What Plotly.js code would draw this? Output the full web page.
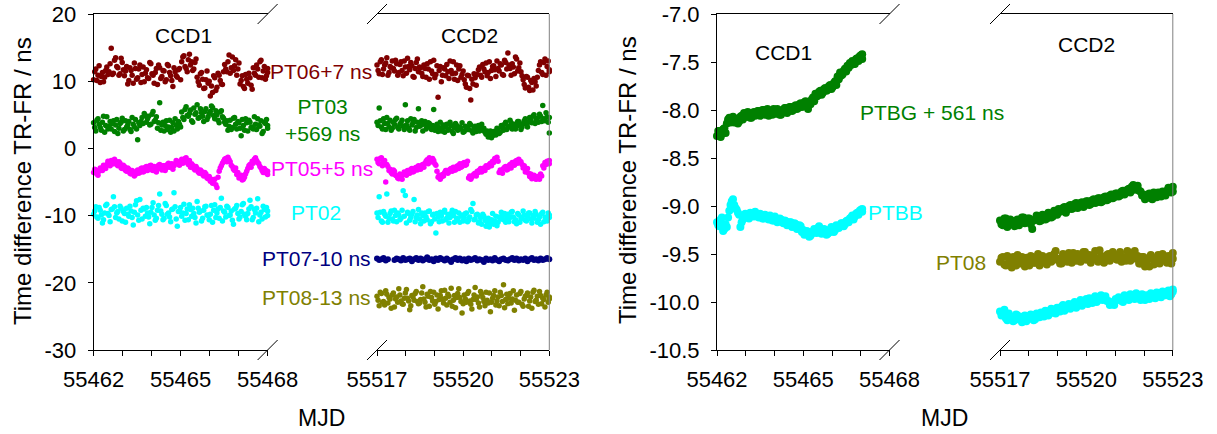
<!DOCTYPE html>
<html><head><meta charset="utf-8">
<script src="https://cdn.plot.ly/plotly-3.0.1.min.js"></script>
<style>html,body{margin:0;padding:0;background:#fff}#chart{width:1217px;height:434px}</style>
</head><body><div id="chart"></div>
<script>
// ---- time spans (MJD) ----
const ccd1Start = 55462, ccd1End = 55468, ccd1EndBG = 55467.05;
const ccd2Start = 55517, ccd2End = 55523;

// ---- left panel (ns); "a" and "b" are two interleaved passes of readings ----
const PT06_ccd1a = [10.2,11.8,10.9,9.8,11.3,10.6,12.1,11.4,14.9,11.2,13.5,12.0,11.1,12.8,10.8,12.2,10.1,11.6,9.7,11.9,10.5,12.4,11.0,9.9,11.7,10.4,12.6,10.9,11.3,9.5,12.0,10.7,11.5,10.2,12.3,10.8,9.2,11.4,10.6,11.9,12.9,13.8,11.9,13.2,12.4,11.6,12.8,10.6,9.4,11.3,8.9,10.2,9.7,7.8,8.3,10.5,9.1,10.9,9.6,11.4,11.8,12.9,11.2,13.6,12.3,10.9,12.7,10.1,9.2,11.0,9.7,10.5,8.8,11.2,12.4,10.6,13.1,11.5,10.3,11.9];
const PT06_ccd1b = [11.4,10.1,12.3,10.7,9.9,11.6,11.0,12.6,11.0,13.1,12.2,10.9,13.4,11.7,11.5,9.6,12.0,10.9,12.7,10.3,11.8,9.8,12.1,11.2,10.5,12.8,11.1,9.7,11.9,12.4,10.4,11.6,9.9,12.5,11.3,10.1,12.0,10.8,11.7,10.2,13.6,12.2,11.4,14.0,12.9,11.8,13.3,9.9,11.1,10.3,9.0,11.5,10.0,9.3,10.8,8.6,11.2,10.1,9.5,12.5,11.4,13.9,12.0,11.6,13.2,11.8,9.6,10.8,8.9,10.3,11.2,9.4,12.0,10.9,11.8,12.9,10.5,12.2,10.8,11.3];
const PT06_ccd2a = [12.4,11.1,13.2,11.8,12.7,10.9,12.2,13.0,11.5,12.6,11.3,12.9,10.8,12.1,13.4,11.7,12.3,10.6,12.8,11.4,12.0,10.7,11.9,12.6,10.3,11.5,13.1,11.0,7.6,12.2,10.9,11.8,12.5,10.4,11.6,12.9,11.2,10.1,12.3,11.0,10.2,9.1,10.8,7.2,9.6,10.5,11.0,12.1,10.6,11.8,12.7,11.3,10.4,12.2,11.7,13.0,11.5,12.4,10.9,12.8,14.2,11.9,12.6,11.1,13.3,12.0,11.4,10.2,9.0,10.6,8.6,9.8,10.4,9.3,11.6,12.9,11.0,13.3,12.2,11.4];
const PT06_ccd2b = [11.6,12.9,11.0,12.4,13.5,11.3,12.0,11.9,13.1,10.9,12.5,11.6,13.0,11.2,12.2,12.8,10.7,11.9,13.3,12.1,11.2,12.4,10.6,11.8,12.9,11.1,10.5,12.3,11.6,9.9,12.0,10.8,11.4,13.0,11.1,10.3,12.4,11.8,10.6,11.5,9.6,10.9,8.9,10.3,11.1,9.4,11.7,10.9,12.5,11.4,10.8,12.9,11.6,12.3,10.7,11.9,12.6,11.0,13.1,11.8,12.4,10.9,12.1,13.6,11.5,12.7,10.8,9.5,10.7,9.1,10.1,8.7,9.9,10.6,12.4,11.3,12.8,10.9,13.0,11.7];
const PT03_ccd1a = [3.8,2.6,4.4,3.1,3.9,2.4,4.7,3.3,2.9,4.1,3.5,2.2,3.7,4.5,2.8,3.2,4.0,2.5,3.6,4.3,1.3,3.4,4.6,5.2,3.9,4.8,3.6,5.5,4.2,3.0,6.8,3.5,2.6,4.1,3.2,2.4,3.8,4.4,2.9,3.6,5.4,4.3,6.2,4.8,5.7,3.9,5.1,6.5,4.6,5.3,4.0,5.9,4.7,5.5,6.1,4.4,5.0,3.8,5.6,4.5,3.6,2.7,4.2,3.1,4.6,2.9,3.8,1.9,3.4,4.4,2.6,3.9,3.2,4.7,2.8,3.5,4.1,2.5,3.7,3.0];
const PT03_ccd1b = [3.1,4.2,3.6,2.7,4.8,3.4,2.9,4.0,3.7,2.5,4.3,3.0,3.9,2.6,4.1,3.5,2.8,4.6,3.2,2.9,3.8,4.0,3.7,4.9,4.4,3.5,5.1,4.0,4.7,3.8,2.7,3.9,3.4,2.8,4.2,3.1,2.6,3.5,4.0,3.2,4.6,5.8,4.9,5.2,4.1,6.0,5.3,4.5,5.9,4.8,5.5,4.3,5.2,6.3,4.9,5.6,4.2,5.4,4.7,3.9,4.1,3.3,2.8,4.5,3.6,4.0,3.0,4.3,2.7,3.8,4.2,3.1,2.9,3.6,4.4,3.3,2.2,3.9,4.3,3.4];
const PT03_ccd2a = [3.9,6.0,3.2,4.4,2.8,3.7,4.2,3.0,3.6,4.5,2.9,3.8,3.3,6.5,4.1,2.7,3.5,4.3,3.1,5.9,3.4,2.6,4.0,3.2,3.7,2.8,5.8,3.3,2.5,3.9,3.0,2.4,3.6,2.9,3.4,2.2,3.7,2.7,3.2,3.8,2.5,3.1,2.8,3.5,2.3,3.3,2.9,2.6,3.6,3.0,2.1,1.7,2.6,1.9,2.4,3.0,2.2,3.4,2.7,3.9,3.1,4.2,2.9,3.6,3.3,4.0,2.8,3.7,4.4,3.2,4.6,3.8,5.0,4.3,3.9,4.8,6.4,4.1,4.7,2.3];
const PT03_ccd2b = [3.4,4.1,2.9,3.7,4.6,3.2,2.7,3.9,4.3,3.1,3.6,4.2,2.8,3.5,3.0,4.4,3.8,2.6,3.9,3.3,4.1,3.6,2.9,3.8,3.1,3.4,2.7,3.6,3.1,2.6,3.5,3.2,2.7,3.9,2.5,3.1,3.4,2.8,3.0,2.4,3.3,2.8,3.7,2.6,3.0,2.5,3.4,3.1,2.7,2.4,2.6,2.3,1.6,2.5,2.0,2.8,2.4,3.1,3.6,2.8,3.3,3.8,3.4,2.9,4.0,3.5,3.2,4.1,3.6,3.9,4.2,4.8,3.7,4.5,5.1,4.0,4.4,5.3,3.9,4.6];
const PT05_ccd1a = [-3.6,-3.2,-4.0,-2.9,-3.3,-2.6,-2.4,-2.1,-1.8,-2.3,-1.9,-2.6,-2.2,-3.0,-2.7,-3.4,-3.1,-3.8,-3.5,-3.9,-3.2,-3.6,-2.9,-3.4,-2.7,-3.1,-2.5,-3.3,-2.8,-3.0,-2.4,-3.2,-2.6,-2.9,-2.2,-2.7,-3.1,-2.3,-1.9,-2.5,-1.6,-2.1,-1.4,-2.4,-2.8,-2.5,-3.2,-3.0,-3.7,-3.4,-4.1,-3.8,-4.5,-4.9,-5.2,-4.6,-5.8,-3.4,-2.6,-1.9,-1.5,-1.3,-2.0,-2.7,-3.3,-3.9,-4.4,-4.0,-4.6,-3.8,-3.0,-2.4,-1.9,-1.6,-1.8,-2.3,-2.9,-3.6,-3.2,-3.9];
const PT05_ccd1b = [-3.1,-3.8,-3.4,-3.0,-2.5,-3.0,-1.9,-2.6,-2.3,-1.6,-2.4,-2.0,-2.9,-2.5,-3.3,-2.9,-3.7,-3.3,-4.1,-3.4,-3.7,-3.0,-3.5,-2.8,-3.3,-2.6,-3.2,-2.7,-3.5,-2.5,-3.0,-2.6,-3.3,-2.4,-2.8,-2.3,-2.6,-1.8,-2.4,-2.0,-2.2,-1.5,-2.0,-1.8,-2.3,-3.0,-2.7,-3.5,-3.2,-3.9,-3.6,-4.4,-4.2,-4.6,-4.8,-5.4,-4.3,-2.9,-2.2,-1.6,-2.0,-1.7,-2.5,-3.1,-2.9,-3.6,-4.1,-4.7,-4.3,-3.4,-2.6,-2.8,-2.2,-1.4,-2.1,-2.7,-3.3,-3.0,-3.7,-3.4];
const PT05_ccd2a = [-1.6,-2.3,-1.4,-2.0,-5.0,-2.7,-3.1,-3.8,-3.4,-4.1,-4.5,-4.2,-3.9,-3.6,-3.3,-3.7,-3.0,-3.4,-2.8,-2.6,-3.1,-2.4,-2.2,-1.7,-1.4,-2.0,-1.8,-2.5,-4.3,-4.6,-3.9,-3.6,-3.3,-3.5,-3.0,-2.8,-3.2,-2.6,-2.3,-2.7,-2.1,-2.4,-4.4,-4.6,-4.0,-3.7,-3.4,-3.2,-3.5,-2.9,-2.6,-2.8,-2.2,-1.9,-1.5,-1.3,-3.6,-3.3,-3.0,-2.7,-3.1,-2.4,-2.1,-2.5,-1.8,-1.6,-2.0,-2.9,-3.5,-3.0,-4.2,-4.5,-4.0,-4.6,-4.3,-3.8,-2.6,-2.1,-1.9,-2.3];
const PT05_ccd2b = [-2.1,-1.5,-2.6,-1.8,-2.4,-3.3,-3.6,-3.2,-4.0,-4.4,-3.8,-4.6,-3.5,-4.0,-3.7,-3.1,-3.5,-2.9,-3.2,-3.0,-2.5,-2.8,-1.9,-2.3,-2.0,-1.5,-2.3,-3.4,-4.0,-4.3,-4.1,-3.3,-3.7,-3.1,-3.4,-3.2,-2.7,-3.0,-2.8,-2.2,-2.5,-1.9,-4.1,-4.3,-3.8,-4.1,-3.6,-3.0,-3.1,-3.3,-2.8,-2.4,-2.6,-2.1,-1.7,-1.9,-3.2,-3.7,-2.8,-3.2,-2.6,-2.9,-2.3,-1.9,-2.2,-1.9,-2.4,-2.6,-3.2,-3.7,-3.8,-4.2,-4.5,-4.2,-4.6,-4.1,-2.9,-2.4,-2.2,-1.8];
const PT02_ccd1a = [-9.8,-8.7,-10.4,-9.2,-11.1,-9.6,-8.3,-10.0,-9.1,-7.2,-10.3,-9.4,-8.6,-10.8,-9.7,-8.9,-10.1,-9.3,-11.4,-8.4,-9.9,-7.6,-10.5,-9.0,-8.8,-10.2,-9.5,-8.1,-10.7,-9.2,-6.8,-9.8,-10.4,-8.5,-9.6,-10.9,-9.0,-8.7,-11.6,-9.4,-10.1,-8.3,-9.7,-10.6,-9.1,-8.9,-10.3,-7.9,-9.5,-10.8,-9.2,-8.6,-10.0,-9.8,-11.0,-8.4,-9.6,-10.4,-7.4,-9.3,-10.2,-8.8,-9.9,-10.7,-9.0,-8.5,-10.5,-9.4,-8.2,-10.1,-9.7,-7.7,-10.6,-9.1,-8.9,-10.9,-9.5,-8.6,-10.2,-9.3];
const PT02_ccd1b = [-9.3,-10.2,-8.8,-9.9,-10.6,-8.5,-9.7,-10.9,-9.0,-8.7,-9.6,-10.5,-8.9,-9.4,-11.0,-9.8,-8.6,-10.3,-9.5,-7.8,-10.7,-9.2,-8.9,-10.1,-9.6,-11.2,-8.8,-9.9,-10.4,-8.5,-9.3,-10.6,-8.2,-9.8,-10.2,-9.1,-6.6,-10.5,-9.4,-8.8,-9.6,-10.7,-9.0,-8.4,-10.1,-9.7,-11.1,-8.9,-9.3,-10.4,-8.7,-9.9,-10.6,-8.5,-9.2,-10.3,-9.0,-8.8,-10.8,-9.5,-8.6,-10.0,-9.3,-11.3,-8.9,-9.7,-10.2,-8.4,-9.8,-10.6,-9.0,-8.7,-10.3,-9.6,-7.5,-9.9,-10.5,-9.1,-8.8,-10.0];
const PT02_ccd2a = [-9.6,-7.2,-10.8,-9.4,-10.1,-11.0,-9.7,-10.5,-9.2,-10.9,-9.9,-10.4,-6.3,-7.0,-9.5,-10.7,-9.8,-7.6,-10.3,-9.1,-11.2,-10.0,-9.6,-10.6,-9.3,-10.9,-9.8,-12.6,-10.2,-9.5,-10.8,-9.2,-10.4,-11.1,-9.7,-10.0,-9.4,-10.6,-11.0,-9.9,-10.3,-9.6,-10.7,-9.1,-8.2,-10.5,-9.8,-10.9,-11.3,-10.1,-11.6,-10.4,-11.2,-9.7,-10.8,-11.5,-10.2,-9.5,-10.6,-11.0,-9.8,-10.3,-9.4,-10.9,-11.2,-9.9,-10.5,-9.3,-10.7,-10.1,-9.6,-11.1,-10.4,-9.8,-10.6,-11.3,-9.5,-10.2,-10.8,-9.9];
const PT02_ccd2b = [-10.3,-9.5,-11.0,-9.8,-6.8,-10.4,-9.3,-10.8,-10.0,-9.6,-10.6,-9.2,-10.1,-11.1,-9.7,-10.3,-9.4,-10.9,-9.9,-10.5,-9.6,-10.8,-10.2,-9.4,-11.2,-9.9,-10.5,-9.7,-10.9,-10.1,-9.5,-10.6,-9.8,-10.3,-9.2,-11.0,-10.4,-9.6,-10.1,-10.8,-9.7,-10.9,-10.2,-9.4,-10.6,-9.9,-11.1,-10.3,-9.8,-10.7,-11.0,-11.7,-10.6,-11.3,-10.1,-11.0,-10.5,-10.0,-9.7,-10.4,-10.9,-9.5,-10.2,-10.6,-9.7,-11.0,-10.3,-9.9,-10.8,-9.6,-10.5,-10.0,-9.4,-11.0,-10.2,-9.7,-10.9,-10.4,-9.6,-10.3];
const PT07_ccd2a = [-16.4,-16.6,-16.5,-16.3,-16.7,-16.5,null,null,-16.6,-16.4,-16.5,-16.7,-16.3,-16.6,-16.5,-16.4,-16.8,-16.5,-16.3,-16.6,-16.4,-16.7,-16.5,-16.2,-16.6,-16.5,-16.8,-16.4,-16.6,-16.3,-16.5,-16.7,-16.4,-16.6,-16.9,-16.5,-16.3,-16.6,-16.4,-16.7,-16.5,-16.8,-16.4,-16.6,-16.5,-16.3,-16.7,-16.5,-16.6,-16.9,-16.4,-16.6,-16.5,-16.7,-16.3,-16.6,-16.8,-16.5,-16.4,-16.6,-16.7,-16.5,-16.3,-16.6,-16.4,-16.7,-16.5,-16.6,-16.4,-16.8,-16.5,-16.3,-16.6,-16.5,-16.7,-16.4,-16.6,-16.5,-16.3,-16.5];
const PT08_ccd2a = [-22.0,-23.4,-21.6,-22.8,-21.2,-23.0,-22.4,-21.8,-23.6,-22.1,-20.9,-22.7,-23.2,-21.5,-22.3,-24.0,-21.9,-22.6,-21.3,-23.1,-22.5,-20.6,-22.9,-21.7,-23.5,-22.2,-21.4,-22.8,-23.9,-21.9,-22.4,-21.1,-23.3,-22.0,-20.8,-22.6,-23.7,-21.6,-22.2,-24.5,-21.8,-22.9,-21.3,-23.2,-22.5,-20.7,-22.1,-23.6,-21.7,-22.8,-21.4,-23.0,-24.3,-22.3,-21.2,-22.7,-23.4,-21.9,-20.3,-22.5,-23.1,-21.6,-22.4,-24.1,-21.8,-22.9,-21.3,-23.5,-22.0,-21.5,-22.7,-23.8,-21.1,-22.6,-23.2,-21.9,-22.3,-23.6,-21.4,-22.1];
const PT08_ccd2b = [-22.6,-21.4,-22.9,-23.3,-21.7,-22.2,-23.8,-21.5,-22.4,-22.9,-21.8,-23.1,-22.3,-21.0,-22.7,-23.4,-22.1,-21.6,-22.8,-23.0,-21.5,-22.4,-23.6,-22.0,-21.3,-22.7,-23.2,-21.8,-22.5,-21.2,-23.0,-22.3,-21.7,-22.9,-23.5,-21.9,-22.2,-20.9,-22.8,-23.1,-22.4,-21.6,-22.7,-23.9,-21.8,-22.5,-23.0,-21.3,-22.2,-23.4,-22.6,-21.5,-22.9,-21.9,-23.3,-22.1,-21.4,-22.8,-23.7,-21.7,-22.3,-23.0,-21.2,-22.6,-22.9,-21.6,-23.2,-22.4,-21.9,-23.5,-22.1,-21.4,-22.8,-22.0,-21.3,-23.1,-22.5,-21.8,-22.9,-22.4];

// ---- right panel (ns) ----
const PTBG_ccd1a = [-8.27,-8.22,-8.25,-8.19,-8.14,-8.08,-8.11,-8.13,-8.09,-8.12,-8.06,-8.03,-8.07,-8.04,-8.08,-8.02,-8.05,-8.01,-8.04,-8.00,-8.03,-8.06,-8.02,-7.99,-8.04,-8.01,-8.05,-8.02,-7.98,-8.01,-7.97,-8.00,-7.95,-7.98,-7.93,-7.96,-7.91,-7.99,-7.94,-7.87,-7.83,-7.85,-7.80,-7.82,-7.77,-7.79,-7.74,-7.76,-7.70,-7.65,-7.61,-7.63,-7.57,-7.54,-7.51,-7.49,-7.52,-7.46,-7.44,-7.47];
const PTBG_ccd1b = [-8.22,-8.28,-8.20,-8.24,-8.10,-8.13,-8.07,-8.10,-8.14,-8.07,-8.10,-8.07,-8.02,-8.08,-8.03,-8.06,-8.01,-8.06,-8.00,-8.05,-7.99,-8.02,-8.05,-8.03,-7.99,-8.05,-8.00,-7.98,-8.03,-7.97,-8.01,-7.96,-7.99,-7.94,-7.97,-7.92,-7.95,-7.93,-7.89,-7.91,-7.86,-7.81,-7.84,-7.78,-7.80,-7.75,-7.78,-7.72,-7.74,-7.68,-7.64,-7.59,-7.60,-7.56,-7.53,-7.52,-7.47,-7.49,-7.43,-7.42];
const PTBB_ccd1a = [-9.17,-9.21,-9.12,-9.24,-9.22,-9.05,-8.95,-8.99,-9.04,-9.09,-9.17,-9.12,-9.10,-9.13,-9.08,-9.11,-9.09,-9.12,-9.10,-9.13,-9.11,-9.14,-9.12,-9.15,-9.13,-9.16,-9.14,-9.18,-9.16,-9.19,-9.17,-9.21,-9.19,-9.23,-9.21,-9.25,-9.27,-9.29,-9.31,-9.28,-9.26,-9.23,-9.25,-9.28,-9.26,-9.29,-9.27,-9.24,-9.25,-9.22,-9.21,-9.18,-9.19,-9.15,-9.13,-9.10,-9.11,-9.07,-9.05,-9.06];
const PTBB_ccd1b = [-9.20,-9.14,-9.26,-9.19,-9.12,-8.99,-8.93,-9.02,-9.07,-9.22,-9.14,-9.08,-9.12,-9.07,-9.10,-9.06,-9.11,-9.08,-9.13,-9.09,-9.13,-9.10,-9.15,-9.11,-9.17,-9.13,-9.17,-9.15,-9.20,-9.17,-9.22,-9.18,-9.24,-9.20,-9.27,-9.30,-9.26,-9.32,-9.27,-9.24,-9.28,-9.21,-9.29,-9.24,-9.30,-9.25,-9.22,-9.27,-9.20,-9.23,-9.18,-9.21,-9.16,-9.17,-9.12,-9.14,-9.08,-9.09,-9.04,-9.03];
const PTBG_ccd2a = [-9.15,-9.20,-9.13,-9.18,-9.16,-9.21,-9.14,-9.17,-9.12,-9.16,-9.13,-9.24,-9.14,-9.11,-9.15,-9.10,-9.13,-9.08,-9.11,-9.06,-9.03,-9.05,-9.01,-9.04,-8.99,-9.02,-8.97,-9.00,-8.96,-8.99,-8.95,-8.98,-8.93,-8.96,-8.92,-8.95,-8.90,-8.93,-8.88,-8.91,-8.87,-8.89,-8.84,-8.86,-8.82,-8.80,-8.83,-8.79,-8.85,-8.88,-8.91,-8.87,-8.93,-8.89,-8.86,-8.90,-8.87,-8.84,-8.82,-8.85];
const PTBG_ccd2b = [-9.19,-9.13,-9.22,-9.14,-9.19,-9.15,-9.20,-9.12,-9.18,-9.13,-9.19,-9.15,-9.10,-9.16,-9.09,-9.14,-9.07,-9.12,-9.05,-9.09,-9.06,-9.02,-9.07,-9.00,-9.03,-8.98,-9.02,-8.97,-9.01,-8.95,-8.99,-8.94,-8.97,-8.92,-8.96,-8.91,-8.94,-8.89,-8.92,-8.87,-8.90,-8.85,-8.88,-8.83,-8.86,-8.78,-8.81,-8.84,-8.89,-8.93,-8.88,-8.92,-8.86,-8.91,-8.88,-8.85,-8.89,-8.81,-8.86,-8.80];
const PT08R_ccd2a = [-9.58,-9.53,-9.62,-9.55,-9.64,-9.56,-9.51,-9.60,-9.57,-9.54,-9.62,-9.53,-9.59,-9.50,-9.57,-9.54,-9.61,-9.52,-9.56,-9.47,-9.55,-9.60,-9.52,-9.58,-9.53,-9.49,-9.57,-9.52,-9.55,-9.48,-9.54,-9.59,-9.51,-9.55,-9.46,-9.53,-9.57,-9.50,-9.54,-9.51,-9.56,-9.48,-9.53,-9.57,-9.50,-9.55,-9.47,-9.52,-9.60,-9.53,-9.58,-9.63,-9.55,-9.60,-9.51,-9.57,-9.52,-9.59,-9.54,-9.49];
const PT08R_ccd2b = [-9.54,-9.61,-9.52,-9.59,-9.53,-9.62,-9.58,-9.53,-9.63,-9.56,-9.52,-9.59,-9.55,-9.62,-9.52,-9.59,-9.53,-9.58,-9.50,-9.56,-9.60,-9.50,-9.57,-9.49,-9.59,-9.55,-9.50,-9.58,-9.48,-9.56,-9.51,-9.56,-9.47,-9.58,-9.52,-9.59,-9.51,-9.57,-9.48,-9.55,-9.51,-9.58,-9.54,-9.47,-9.57,-9.50,-9.55,-9.60,-9.53,-9.63,-9.55,-9.51,-9.61,-9.54,-9.60,-9.50,-9.57,-9.52,-9.60,-9.55];
const PTBB_ccd2a = [-10.10,-10.13,-10.17,-10.12,-10.16,-10.19,-10.14,-10.18,-10.15,-10.20,-10.16,-10.14,-10.18,-10.13,-10.11,-10.15,-10.10,-10.12,-10.08,-10.12,-10.07,-10.05,-10.09,-10.04,-10.07,-10.02,-10.06,-10.01,-10.04,-9.99,-10.02,-9.98,-9.96,-10.00,-9.95,-9.98,-9.94,-9.99,-10.02,-10.03,-9.98,-9.96,-10.00,-9.95,-9.98,-9.94,-9.97,-9.93,-9.98,-9.95,-9.93,-9.97,-9.92,-9.96,-9.91,-9.95,-9.92,-9.90,-9.94,-9.89];
const PTBB_ccd2b = [-10.14,-10.08,-10.19,-10.15,-10.20,-10.13,-10.17,-10.21,-10.14,-10.18,-10.13,-10.19,-10.12,-10.16,-10.13,-10.09,-10.14,-10.07,-10.11,-10.06,-10.10,-10.03,-10.07,-10.02,-10.05,-10.00,-10.04,-9.98,-10.01,-9.97,-9.96,-10.01,-9.94,-9.98,-9.93,-9.96,-9.99,-10.03,-10.00,-9.97,-9.95,-9.99,-9.93,-9.97,-9.92,-9.96,-9.91,-9.96,-9.92,-9.98,-9.94,-9.91,-9.95,-9.90,-9.94,-9.89,-9.93,-9.88,-9.92,-9.87];

// ---- ticks ----
const yTicksL = [-30,-20,-10,0,10,20];
const yTextL  = ['-30','-20','-10','0','10','20'];
const yTicksR = [-10.5,-10.0,-9.5,-9.0,-8.5,-8.0,-7.5,-7.0];
const yTextR  = ['-10.5','-10.0','-9.5','-9.0','-8.5','-8.0','-7.5','-7.0'];
const xTicks1 = [55462,55465,55468];
const xTicks2 = [55517,55520,55523];

// sampling times of a track series spanning [a,b]; pass "b" is offset half a step
function sampleTimes(a, b, n, half){
  const st = (b-a)/(n-1), t=[];
  for(let i=0;i<n;i++) t.push(a + st*(i + (half?0.5:0)));
  if(half) t[n-1] = b;
  return t;
}

const W = 1217, H = 434;
const PX = v => v / W, PY = v => 1 - v / H;
const FONT = 'Liberation Sans, Arial, sans-serif';

const C = {red:'#800000', green:'#008000', mag:'#FF00FF', cyan:'#00FFFF', navy:'#000080', olive:'#808000'};

function tr(y, a, b, half, xa, ya, color, size){
  return {x: sampleTimes(a,b,y.length,half), y: y, xaxis: xa, yaxis: ya, type:'scatter', mode:'markers',
          marker:{color:color, size:size, line:{width:0}}, hoverinfo:'skip', cliponaxis:false};
}
const S1 = 5.5, S2 = 8;
const data = [
  tr(PT06_ccd1a, ccd1Start, ccd1End, false, 'x','y', C.red, S1),
  tr(PT06_ccd1b, ccd1Start, ccd1End, true,  'x','y', C.red, S1),
  tr(PT03_ccd1a, ccd1Start, ccd1End, false, 'x','y', C.green, S1),
  tr(PT03_ccd1b, ccd1Start, ccd1End, true,  'x','y', C.green, S1),
  tr(PT05_ccd1a, ccd1Start, ccd1End, false, 'x','y', C.mag, S1),
  tr(PT05_ccd1b, ccd1Start, ccd1End, true,  'x','y', C.mag, S1),
  tr(PT02_ccd1a, ccd1Start, ccd1End, false, 'x','y', C.cyan, S1),
  tr(PT02_ccd1b, ccd1Start, ccd1End, true,  'x','y', C.cyan, S1),
  tr(PT06_ccd2a, ccd2Start, ccd2End, false, 'x2','y', C.red, S1),
  tr(PT06_ccd2b, ccd2Start, ccd2End, true,  'x2','y', C.red, S1),
  tr(PT03_ccd2a, ccd2Start, ccd2End, false, 'x2','y', C.green, S1),
  tr(PT03_ccd2b, ccd2Start, ccd2End, true,  'x2','y', C.green, S1),
  tr(PT05_ccd2a, ccd2Start, ccd2End, false, 'x2','y', C.mag, S1),
  tr(PT05_ccd2b, ccd2Start, ccd2End, true,  'x2','y', C.mag, S1),
  tr(PT02_ccd2a, ccd2Start, ccd2End, false, 'x2','y', C.cyan, S1),
  tr(PT02_ccd2b, ccd2Start, ccd2End, true,  'x2','y', C.cyan, S1),
  tr(PT07_ccd2a, ccd2Start, ccd2End, false, 'x2','y', C.navy, 6),
  tr(PT08_ccd2a, ccd2Start, ccd2End, false, 'x2','y', C.olive, S1),
  tr(PT08_ccd2b, ccd2Start, ccd2End, true,  'x2','y', C.olive, S1),
  tr(PTBG_ccd1a, ccd1Start, ccd1EndBG, false, 'x3','y2', C.green, S2),
  tr(PTBG_ccd1b, ccd1Start, ccd1EndBG, true,  'x3','y2', C.green, S2),
  tr(PTBB_ccd1a, ccd1Start, ccd1EndBG, false, 'x3','y2', C.cyan, S2),
  tr(PTBB_ccd1b, ccd1Start, ccd1EndBG, true,  'x3','y2', C.cyan, S2),
  tr(PTBG_ccd2a, ccd2Start, ccd2End, false, 'x4','y2', C.green, S2),
  tr(PTBG_ccd2b, ccd2Start, ccd2End, true,  'x4','y2', C.green, S2),
  tr(PT08R_ccd2a, ccd2Start, ccd2End, false, 'x4','y2', C.olive, S2),
  tr(PT08R_ccd2b, ccd2Start, ccd2End, true,  'x4','y2', C.olive, S2),
  tr(PTBB_ccd2a, ccd2Start, ccd2End, false, 'x4','y2', C.cyan, S2),
  tr(PTBB_ccd2b, ccd2Start, ccd2End, true,  'x4','y2', C.cyan, S2)
];

const yDom = [1 - 350/H, 1 - 14/H];
function xax(d0, d1, range, ticks, anchor){
  return {domain:[PX(d0), PX(d1)], range: range, anchor: anchor,
    tickmode:'array', tickvals: ticks, ticktext: ticks.map(String),
    ticks:'outside', ticklen:5, tickcolor:'#000', tickwidth:1,
    minor:{tickmode:'linear', tick0: range[0], dtick:1, ticks:'outside', ticklen:5, tickcolor:'#000', tickwidth:1},
    showline:true, linecolor:'#000', linewidth:1, mirror:true,
    showgrid:false, zeroline:false, ticklabelstandoff: 5,
    tickfont:{family:FONT, size:22, color:'#000'}};
}
function yax(range, vals, text, anchor){
  return {domain: yDom, range: range, anchor: anchor,
    tickmode:'array', tickvals: vals, ticktext: text,
    ticks:'outside', ticklen:5, tickcolor:'#000', tickwidth:1,
    showline:true, linecolor:'#000', linewidth:1,
    showgrid:false, zeroline:false, ticklabelstandoff: 7,
    tickfont:{family:FONT, size:22, color:'#000'}};
}

function ann(text, x, y, color, opts, size){
  return Object.assign({text:text, x:PX(x), y:PY(y), xref:'paper', yref:'paper', showarrow:false,
    xanchor:'center', yanchor:'middle', font:{family:FONT, size:size||21, color:color}}, opts||{});
}
function slash(cx, cy){
  return {type:'line', xref:'paper', yref:'paper', x0:PX(cx-10), y0:PY(cy+10), x1:PX(cx+10), y1:PY(cy-10),
          line:{color:'#000', width:1}};
}
function vline(x, y0, y1, color){
  return {type:'line', xref:'paper', yref:'paper', x0:PX(x), x1:PX(x), y0:PY(y0), y1:PY(y1), line:{color:color, width:1}};
}

const layout = {
  width: W, height: H, margin:{l:0, r:0, t:0, b:0},
  paper_bgcolor:'#fff', plot_bgcolor:'rgba(0,0,0,0)', showlegend:false,
  xaxis:  xax(93.6, 267.6, [ccd1Start, ccd1End], xTicks1, 'y'),
  xaxis2: xax(377, 549.3, [ccd2Start, ccd2End], xTicks2, 'y'),
  xaxis3: xax(717, 889.5, [ccd1Start, ccd1End], xTicks1, 'y2'),
  xaxis4: xax(1000, 1172.8, [ccd2Start, ccd2End], xTicks2, 'y2'),
  yaxis:  yax([-30, 20], yTicksL, yTextL, 'x'),
  yaxis2: yax([-10.5, -7.0], yTicksR, yTextR, 'x3'),
  shapes: [
    slash(267.6, 14), slash(267.6, 350), slash(377, 14), slash(377, 350),
    slash(889.5, 14), slash(889.5, 350), slash(1000, 14), slash(1000, 350),
    vline(549.3, 14, 350, '#808080'), vline(1172.8, 14, 350, '#808080')
  ],
  annotations: [
    ann('CCD1', 183, 35, '#000'),
    ann('CCD2', 469, 35, '#000'),
    ann('PT06+7 ns', 321, 71, C.red),
    ann('PT03<br>+569 ns', 322, 120, C.green),
    ann('PT05+5 ns', 322, 168, C.mag),
    ann('PT02', 316, 212, C.cyan),
    ann('PT07-10 ns', 373, 258, C.navy, {xanchor:'right'}),
    ann('PT08-13 ns', 373, 297, C.olive, {xanchor:'right'}),
    ann('MJD', 321, 418, '#000', null, 23),
    ann('Time difference TR-FR / ns', 22, 181, '#000', {textangle:-90}, 24),
    ann('CCD1', 783, 52, '#000'),
    ann('CCD2', 1086, 45, '#000'),
    ann('PTBG + 561 ns', 932, 113, C.green),
    ann('PTBB', 866, 212, C.cyan, {xanchor:'left'}),
    ann('PT08', 988, 262, C.olive, {xanchor:'right'}),
    ann('MJD', 944, 418, '#000', null, 23),
    ann('Time difference TR-FR / ns', 627, 180, '#000', {textangle:-90}, 24)
  ]
};

Plotly.newPlot('chart', data, layout, {staticPlot:true, displayModeBar:false});
</script>
</body></html>
